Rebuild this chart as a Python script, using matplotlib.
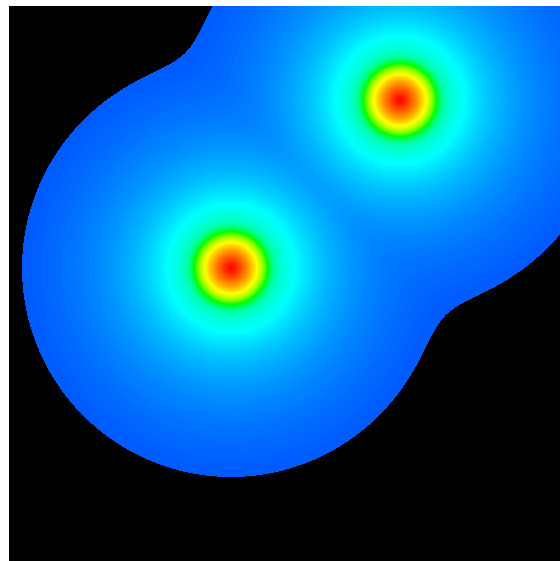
import numpy as np
import matplotlib.pyplot as plt
from matplotlib.colors import LinearSegmentedColormap

# Blob parameters (image pixel units, origin at top-left of the image)
blob_x = [222, 391]         # x of blob centres
blob_y = [262, 94]          # y of blob centres
halo_k = [19.0, 19.0]       # strength of the wide halo of each blob
halo_soft = [40.0, 40.0]    # softening radius of the halo
core_amp = [0.525, 0.525]   # height of the bright core at the centre
core_slope = [0.0065, 0.0065]  # linear fall of the core per pixel
core_edge = [37.0, 37.0]    # radius where the core drops off
edge_width = 3.0            # width of that drop
blend_p = 14                # smooth-max exponent used to merge the blobs
threshold = 0.0893          # field values below this are drawn black

width, height = 551, 555

# Evaluate the field on the pixel grid
X, Y = np.meshgrid(np.arange(width) + 0.5, np.arange(height) + 0.5)
acc = np.zeros_like(X)
for cx, cy, k, a, A, sl, r0 in zip(blob_x, blob_y, halo_k, halo_soft,
                                  core_amp, core_slope, core_edge):
    d = np.sqrt((X - cx) ** 2 + (Y - cy) ** 2)
    core = np.clip(A - sl * d, 0, None) / (1 + np.exp((d - r0) / edge_width))
    g = k / np.sqrt(d ** 2 + a ** 2) + core
    acc += g ** blend_p
field = acc ** (1.0 / blend_p)
field = np.ma.masked_less(field, threshold)

# Hue ramp: blue -> cyan -> green -> yellow -> red
cmap = LinearSegmentedColormap.from_list(
    'hue', ['#0000ff', '#00ffff', '#00ff00', '#ffff00', '#ff0000'])
cmap.set_bad('black')

fig = plt.figure(figsize=(5.6, 5.61), dpi=100)
ax = fig.add_axes([9 / 560, 0, 551 / 560, 555 / 561])
ax.imshow(field, cmap=cmap, vmin=0, vmax=1, origin='upper',
          extent=[0, width, height, 0], interpolation='antialiased')
ax.set_facecolor('black')
ax.axis('off')
fig.savefig('out.png', dpi=100)
